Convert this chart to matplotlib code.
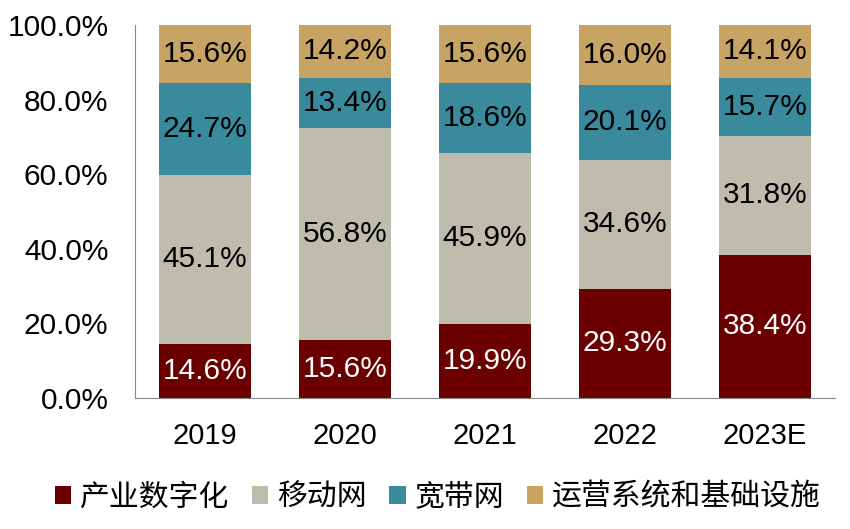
import matplotlib
matplotlib.use("Agg")
import matplotlib.pyplot as plt
import numpy as np

years = ["2019", "2020", "2021", "2022", "2023E"]
series_names = ["产业数字化", "移动网", "宽带网", "运营系统和基础设施"]
industry = [14.6, 15.6, 19.9, 29.3, 38.4]
mobile = [45.1, 56.8, 45.9, 34.6, 31.8]
broadband = [24.7, 13.4, 18.6, 20.1, 15.7]
ops = [15.6, 14.2, 15.6, 16.0, 14.1]
colors = ["#6B0000", "#BDBCAD", "#3A8A9E", "#C8A464"]
text_colors = ["white", "black", "black", "black"]

plt.rcParams['font.family'] = ['Liberation Sans', 'Noto Sans CJK SC', 'DejaVu Sans']

fig = plt.figure(figsize=(8.5, 5.29), dpi=100)
ax = fig.add_axes([135/850, 1-398/529, 700/850, 373/529])

x = np.arange(len(years))
bottom = np.zeros(len(years))
data = [industry, mobile, broadband, ops]
for vals, c, tc, name in zip(data, colors, text_colors, series_names):
    vals = np.array(vals)
    ax.bar(x, vals, 0.66, bottom=bottom, color=c, label=name)
    for xi, b, v in zip(x, bottom, vals):
        ax.text(xi, b + v/2, f"{v:.1f}%", ha="center", va="center", color=tc, fontsize=21.5)
    bottom += vals

ax.set_xlim(-0.5, len(years)-0.5)
ax.set_ylim(0, 100)
ax.set_yticks(np.arange(0, 101, 20))
ax.set_yticklabels([f"{v:.1f}%" for v in range(0, 101, 20)], fontsize=21.5)
ax.set_xticks(x)
ax.set_xticklabels(years, fontsize=21)
ax.tick_params(axis='both', length=0)
ax.tick_params(axis='x', pad=17)
ax.tick_params(axis='y', pad=19)
for s in ["top", "right"]:
    ax.spines[s].set_visible(False)
ax.spines["left"].set_color("#888888")
ax.spines["bottom"].set_color("#888888")

leg = fig.legend(loc="center", bbox_to_anchor=(0.515, 1-497/529), ncol=4, frameon=False,
                 handlelength=0.55, handleheight=0.55, handletextpad=0.3,
                 columnspacing=0.75, prop={'family': ['Noto Sans CJK SC', 'DejaVu Sans'], 'size': 21.5})
fig.savefig("out.png", dpi=100)
